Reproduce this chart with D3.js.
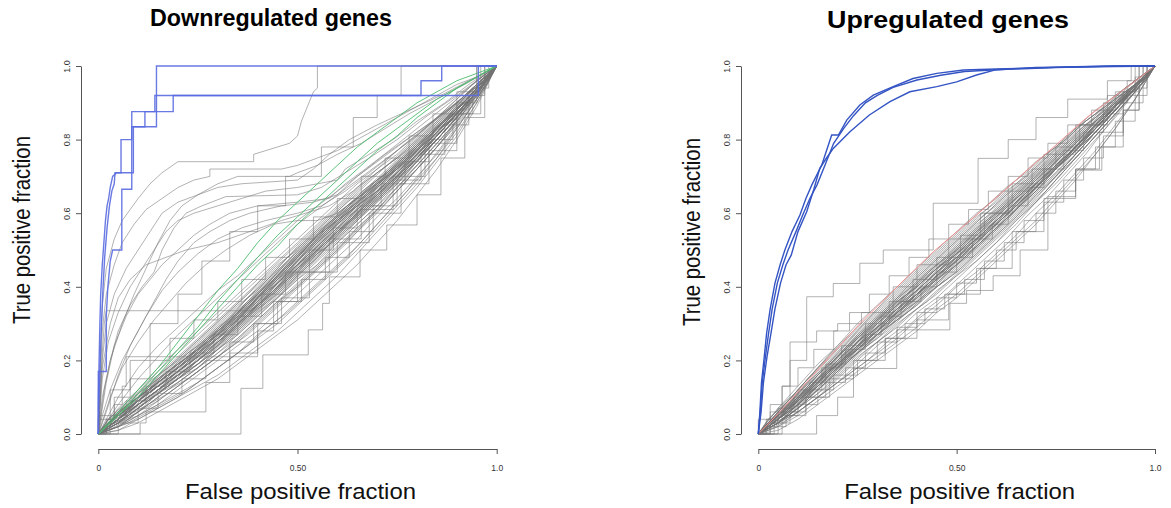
<!DOCTYPE html>
<html>
<head>
<meta charset="utf-8">
<script src="https://cdn.jsdelivr.net/npm/d3@7"></script>
<style>
  body { margin: 0; background: #fff; }
  svg text { font-family: "Liberation Sans", Arial, sans-serif; }
</style>
</head>
<body>
<svg id="chart" width="1171" height="508"></svg>
<script>
// ---- data ----
const panelTitles = ["Downregulated genes", "Upregulated genes"];
const xTitle = "False positive fraction";
const yTitle = "True positive fraction";
const xTicks = [0, 0.5, 1];
const xTickLabels = ["0", "0.50", "1.0"];
const yTicks = [0, 0.2, 0.4, 0.6, 0.8, 1];
const yTickLabels = ["0.0", "0.2", "0.4", "0.6", "0.8", "1.0"];

// false positive fraction grids used by the dense random-set curves
const fprGrid = [0, 0.05, 0.1, 0.15, 0.2, 0.25, 0.3, 0.35, 0.4, 0.45, 0.5,
                 0.55, 0.6, 0.65, 0.7, 0.75, 0.8, 0.85, 0.9, 0.95, 1];
const fprGridB = [0, 0.025, 0.075, 0.125, 0.175, 0.225, 0.275, 0.325, 0.375, 0.425, 0.475,
                  0.525, 0.575, 0.625, 0.675, 0.725, 0.775, 0.825, 0.875, 0.925, 0.975, 1];

// downregulated: true positive fraction of random gene sets on fprGrid
const downBand = [
  [0,.05,.10,.15,.19,.24,.29,.34,.40,.45,.51,.56,.61,.66,.71,.75,.80,.85,.90,.95,1],
  [0,.03,.07,.11,.15,.18,.23,.28,.33,.38,.43,.48,.53,.58,.63,.68,.73,.79,.85,.92,1],
  [0,.06,.11,.15,.20,.25,.30,.35,.39,.44,.50,.55,.60,.64,.69,.74,.79,.84,.89,.95,1],
  [0,.04,.08,.12,.16,.19,.24,.29,.34,.39,.45,.50,.55,.60,.65,.70,.75,.80,.86,.93,1],
  [0,.02,.06,.09,.13,.17,.21,.26,.31,.36,.41,.46,.52,.57,.62,.67,.72,.78,.84,.91,1],
  [0,.05,.09,.14,.18,.22,.27,.33,.38,.43,.48,.54,.58,.63,.68,.72,.77,.82,.88,.94,1],
  [0,.04,.10,.14,.18,.23,.28,.32,.37,.42,.46,.51,.56,.61,.66,.71,.77,.83,.88,.94,1],
  [0,.03,.06,.10,.14,.18,.22,.26,.31,.36,.40,.45,.50,.55,.60,.66,.72,.78,.85,.92,1],
  [0,.07,.12,.17,.22,.27,.32,.37,.42,.47,.52,.57,.62,.67,.71,.75,.80,.85,.90,.95,1],
  [0,.04,.07,.11,.15,.20,.25,.30,.35,.40,.46,.51,.56,.61,.67,.72,.77,.82,.87,.93,1],
  [0,.02,.05,.08,.12,.16,.20,.24,.28,.33,.38,.43,.48,.53,.59,.64,.70,.76,.83,.91,1],
  [0,.05,.10,.13,.17,.21,.26,.31,.37,.42,.47,.53,.58,.63,.67,.72,.78,.83,.88,.94,1],
  [0,.06,.10,.16,.21,.26,.31,.36,.41,.46,.50,.55,.59,.64,.69,.74,.79,.84,.89,.94,1],
  [0,.03,.08,.12,.15,.19,.23,.27,.32,.37,.43,.48,.54,.59,.64,.69,.74,.80,.86,.93,1],
  [0,.04,.09,.13,.17,.21,.26,.31,.36,.41,.47,.52,.57,.62,.67,.71,.76,.81,.87,.93,1],
  [0,.01,.04,.07,.10,.14,.18,.22,.27,.31,.36,.41,.46,.51,.57,.63,.69,.75,.82,.90,1],
  [0,.05,.11,.16,.20,.24,.29,.33,.38,.44,.49,.54,.58,.63,.68,.73,.78,.83,.89,.95,1],
  [0,.04,.08,.13,.17,.22,.27,.32,.37,.41,.46,.50,.55,.60,.65,.70,.76,.81,.87,.94,1],
  [0,.03,.07,.11,.14,.18,.23,.28,.33,.37,.42,.47,.52,.57,.62,.68,.74,.80,.86,.93,1],
  [0,.06,.12,.18,.23,.28,.33,.38,.43,.48,.53,.58,.63,.68,.72,.76,.81,.86,.91,.96,1],
  [0,.04,.09,.13,.18,.23,.28,.33,.38,.44,.49,.54,.59,.64,.69,.73,.78,.83,.88,.94,1],
  [0,.02,.05,.09,.13,.17,.21,.25,.30,.35,.40,.45,.50,.56,.61,.66,.72,.78,.85,.92,1],
  [0,.05,.09,.13,.16,.20,.24,.29,.35,.40,.45,.50,.55,.60,.65,.70,.75,.81,.87,.93,1],
  [0,.03,.06,.11,.16,.21,.26,.30,.35,.39,.44,.49,.53,.58,.63,.68,.74,.80,.86,.93,1],
  [0,.04,.08,.11,.15,.19,.24,.30,.35,.41,.46,.51,.57,.62,.66,.70,.75,.80,.86,.93,1],
  [0,.05,.08,.12,.17,.22,.27,.31,.35,.40,.44,.49,.54,.59,.64,.69,.75,.81,.87,.94,1],
  [0,.03,.07,.12,.17,.21,.25,.30,.34,.38,.43,.48,.54,.60,.66,.71,.76,.81,.87,.93,1],
  [0,.06,.10,.14,.19,.23,.27,.32,.37,.43,.48,.53,.58,.62,.67,.72,.77,.82,.88,.94,1],
  [0,.02,.06,.10,.14,.18,.22,.27,.32,.37,.42,.46,.51,.56,.61,.67,.73,.79,.85,.92,1],
  [0,.04,.09,.14,.18,.22,.26,.31,.36,.41,.46,.52,.57,.62,.66,.71,.77,.83,.88,.94,1],
  [0,.02,.04,.07,.10,.13,.16,.20,.24,.28,.33,.38,.43,.49,.55,.61,.67,.74,.81,.90,1],
  [0,.03,.05,.08,.11,.14,.18,.22,.26,.30,.35,.40,.45,.50,.56,.62,.68,.75,.83,.91,1],
  [0,.01,.03,.06,.09,.12,.15,.19,.23,.27,.31,.36,.41,.46,.52,.58,.65,.72,.80,.89,1],
  [0,.08,.15,.21,.27,.32,.37,.42,.47,.52,.57,.61,.65,.69,.73,.77,.81,.86,.91,.96,1],
  [0,.10,.18,.24,.29,.34,.39,.43,.48,.53,.58,.62,.66,.70,.74,.78,.82,.86,.90,.95,1],
  [0,.04,.09,.13,.17,.21,.26,.31,.36,.42,.47,.52,.57,.62,.66,.71,.76,.81,.87,.93,1],
  [0,.05,.09,.14,.18,.22,.27,.32,.37,.42,.48,.53,.58,.62,.67,.72,.77,.82,.87,.94,1],
  [0,.03,.08,.12,.16,.20,.25,.30,.35,.40,.46,.51,.56,.61,.66,.71,.76,.81,.87,.93,1],
  [0,.05,.10,.14,.18,.23,.28,.33,.38,.43,.48,.53,.58,.63,.68,.72,.77,.82,.88,.94,1],
  [0,.04,.08,.12,.16,.20,.25,.30,.35,.40,.45,.50,.55,.60,.65,.70,.75,.81,.87,.93,1],
  [0,.03,.07,.11,.15,.20,.25,.29,.34,.39,.44,.50,.55,.60,.65,.70,.76,.82,.88,.94,1],
  [0,.05,.09,.13,.17,.22,.26,.31,.37,.42,.47,.52,.57,.61,.66,.71,.76,.82,.87,.93,1],
  [0,.04,.09,.14,.19,.23,.28,.33,.38,.43,.48,.54,.59,.64,.68,.73,.78,.83,.88,.94,1],
  [0,.04,.09,.13,.18,.23,.27,.32,.36,.41,.46,.51,.56,.61,.65,.70,.75,.80,.86,.93,1],
  [0,.05,.10,.15,.19,.23,.28,.33,.38,.43,.49,.54,.59,.63,.68,.73,.78,.83,.88,.94,1]
];

// downregulated: more random gene sets on fprGridB
const downBandB = [
  [0,.03,.08,.12,.16,.20,.25,.30,.35,.40,.45,.50,.55,.60,.65,.70,.74,.79,.85,.90,.97,1],
  [0,.02,.06,.10,.14,.18,.22,.27,.32,.37,.42,.47,.52,.57,.62,.67,.72,.78,.84,.89,.96,1],
  [0,.03,.07,.12,.16,.21,.26,.31,.36,.42,.47,.52,.57,.62,.67,.71,.76,.81,.86,.91,.97,1],
  [0,.02,.06,.10,.13,.17,.21,.25,.30,.35,.40,.45,.50,.55,.61,.66,.72,.78,.84,.90,.96,1],
  [0,.04,.09,.14,.18,.23,.28,.33,.38,.43,.48,.53,.58,.63,.67,.72,.77,.82,.87,.92,.97,1],
  [0,.02,.07,.11,.15,.19,.24,.28,.33,.38,.44,.49,.54,.59,.64,.69,.74,.79,.85,.90,.96,1],
  [0,.03,.06,.10,.14,.19,.24,.29,.34,.39,.43,.48,.53,.58,.63,.68,.73,.79,.84,.90,.96,1],
  [0,.03,.08,.12,.17,.21,.26,.31,.37,.42,.48,.53,.58,.63,.68,.73,.77,.82,.87,.92,.97,1],
  [0,.01,.04,.08,.12,.15,.19,.23,.28,.33,.38,.43,.48,.53,.58,.64,.70,.76,.82,.89,.95,1],
  [0,.03,.07,.11,.15,.20,.25,.30,.35,.40,.46,.51,.56,.61,.66,.70,.75,.81,.86,.91,.97,1],
  [0,.02,.06,.10,.14,.18,.23,.27,.32,.37,.42,.48,.53,.58,.63,.68,.73,.78,.84,.90,.96,1],
  [0,.04,.08,.12,.17,.22,.27,.32,.37,.42,.47,.52,.57,.62,.66,.71,.76,.81,.86,.91,.97,1],
  [0,.02,.05,.09,.13,.17,.21,.26,.31,.36,.41,.46,.51,.56,.61,.66,.72,.77,.83,.89,.96,1],
  [0,.03,.07,.11,.16,.20,.25,.29,.34,.39,.44,.50,.55,.60,.65,.70,.75,.80,.86,.91,.97,1],
  [0,.03,.08,.13,.17,.22,.26,.31,.36,.41,.46,.51,.56,.61,.65,.70,.75,.80,.85,.91,.96,1],
  [0,.02,.05,.08,.11,.15,.19,.23,.27,.32,.37,.42,.47,.52,.58,.63,.69,.75,.81,.88,.95,1],
  [0,.04,.09,.13,.18,.23,.28,.33,.38,.44,.49,.54,.59,.64,.69,.73,.78,.83,.88,.92,.97,1],
  [0,.02,.06,.11,.15,.19,.23,.28,.33,.38,.43,.47,.52,.57,.62,.67,.72,.78,.84,.90,.96,1],
  [0,.03,.07,.11,.15,.19,.24,.29,.34,.40,.45,.50,.55,.60,.65,.70,.75,.80,.85,.91,.96,1],
  [0,.02,.06,.09,.13,.18,.22,.26,.31,.36,.41,.46,.52,.57,.62,.67,.72,.78,.84,.90,.96,1],
  [0,.03,.08,.12,.16,.21,.26,.30,.35,.40,.45,.51,.56,.61,.66,.71,.76,.81,.86,.91,.97,1],
  [0,.02,.05,.09,.14,.18,.22,.27,.32,.37,.42,.47,.51,.56,.61,.66,.71,.77,.83,.89,.96,1],
  [0,.03,.07,.12,.17,.21,.25,.30,.36,.41,.46,.51,.57,.62,.67,.71,.76,.81,.86,.91,.97,1],
  [0,.01,.03,.06,.09,.12,.16,.20,.24,.29,.33,.38,.43,.48,.54,.60,.66,.73,.80,.87,.95,1]
];

// downregulated: random sets with their own [fpr, tpr] vertices (outliers and step curves)
const downOther = [
  [[0,0],[.005,.2],[.01,.35],[.02,.45],[.04,.53],[.06,.58],[.08,.61],[.1,.64],[.13,.68],[.16,.71],[.2,.74],[.39,.74],[.39,.76],[.42,.77],[.48,.79],[.5,.81],[.51,.85],[.54,.93],[.55,.94],[.55,1],[1,1]],
  [[0,0],[.005,.15],[.01,.28],[.02,.38],[.04,.46],[.06,.52],[.09,.57],[.12,.61],[.16,.64],[.2,.67],[.24,.69],[.28,.7],[.28,.72],[.46,.72],[.5,.73],[.55,.75],[.6,.77],[.65,.8],[.7,.83],[.75,.86],[.8,.89],[.85,.92],[.9,.95],[.95,.97],[1,1]],
  [[0,0],[.01,.2],[.02,.3],[.04,.38],[.07,.45],[.1,.5],[.13,.55],[.16,.6],[.2,.63],[.25,.65],[.3,.68],[.35,.7],[.48,.7],[.5,.71],[.55,.73],[.6,.76],[.66,.79],[.72,.83],[.78,.87],[.85,.91],[.92,.95],[1,1]],
  [[0,0],[.01,.15],[.025,.25],[.05,.33],[.08,.4],[.11,.45],[.14,.5],[.17,.55],[.2,.58],[.24,.6],[.3,.62],[.36,.64],[.42,.66],[.5,.67],[.6,.69],[.62,.72],[.68,.76],[.74,.8],[.8,.85],[.87,.9],[.93,.95],[1,1]],
  [[0,0],[.015,.12],[.03,.2],[.05,.28],[.08,.35],[.11,.4],[.14,.44],[.16,.5],[.19,.56],[.22,.6],[.26,.62],[.32,.645],[.5,.65],[.56,.67],[.62,.71],[.68,.75],[.75,.8],[.82,.86],[.9,.92],[1,1]],
  [[0,0],[.02,.14],[.04,.24],[.07,.32],[.1,.38],[.13,.42],[.16,.46],[.2,.5],[.24,.54],[.28,.57],[.33,.6],[.4,.62],[.5,.63],[.58,.64],[.62,.68],[.67,.72],[.73,.77],[.8,.83],[.87,.89],[.94,.95],[1,1]],
  [[0,0],[.005,.12],[.01,.22],[.015,.3],[.02,.335],[.38,.335],[.41,.36],[.45,.4],[.5,.45],[.55,.5],[.6,.55],[.66,.6],[.72,.66],[.78,.72],[.85,.8],[.92,.89],[1,1]],
  [[0,0],[.02,.06],[.05,.16],[.08,.24],[.12,.32],[.16,.39],[.2,.44],[.25,.49],[.3,.53],[.36,.56],[.42,.58],[.5,.6],[.56,.62],[.62,.66],[.68,.71],[.75,.77],[.82,.83],[.9,.9],[1,1]],
  [[0,0],[.03,.1],[.06,.18],[.1,.25],[.14,.31],[.18,.36],[.22,.41],[.27,.46],[.32,.5],[.38,.54],[.44,.57],[.5,.58],[.55,.58],[.6,.6],[.66,.65],[.72,.7],[.8,.77],[.88,.85],[.95,.93],[1,1]],
  [[0,0],[.01,.1],[.03,.2],[.06,.3],[.09,.38],[.12,.45],[.15,.52],[.18,.58],[.21,.62],[.25,.65],[.3,.67],[.36,.68],[.5,.69],[.54,.72],[.58,.76],[.63,.8],[.7,.84],[.78,.88],[.86,.92],[.93,.96],[1,1]],
  [[0,0],[.01,.18],[.03,.3],[.05,.37],[.08,.42],[.12,.46],[.17,.48],[.22,.5],[.3,.52],[.38,.55],[.46,.58],[.52,.6],[.58,.62],[.64,.66],[.7,.72],[.76,.78],[.84,.85],[.92,.92],[1,1]],
  [[0,0],[.01,.05],[.03,.12],[.06,.2],[.1,.28],[.14,.36],[.17,.42],[.2,.47],[.24,.52],[.28,.55],[.33,.58],[.38,.6],[.46,.62],[.54,.63],[.6,.65],[.65,.7],[.72,.76],[.8,.82],[.88,.88],[.95,.95],[1,1]],
  [[0,0],[.358,0],[.358,.124],[.413,.124],[.413,.215],[.527,.215],[.527,.283],[.563,.283],[.563,.355],[.58,.355],[.58,.427],[.657,.427],[.657,.5],[.724,.5],[.724,.568],[.8,.568],[.8,.65],[.86,.65],[.86,.75],[.92,.75],[.92,.86],[.97,.86],[.97,1],[1,1]],
  [[0,0],[.02,0],[.02,.04],[.04,.04],[.04,.08],[.06,.08],[.06,.13],[.07,.13],[.07,.21],[.4,.21],[.4,.28],[.44,.28],[.44,.36],[.5,.36],[.5,.44],[.58,.44],[.58,.53],[.66,.53],[.66,.61],[.74,.61],[.74,.7],[.82,.7],[.82,.79],[.9,.79],[.9,.9],[.95,.9],[.95,1],[1,1]],
  [[0,0],[.105,0],[.105,.03],[.12,.03],[.12,.06],[.27,.06],[.27,.14],[.33,.14],[.33,.22],[.4,.22],[.4,.3],[.46,.3],[.46,.37],[.53,.37],[.53,.44],[.6,.44],[.6,.52],[.68,.52],[.68,.6],[.76,.6],[.76,.68],[.83,.68],[.83,.77],[.9,.77],[.9,.87],[.96,.87],[.96,1],[1,1]],
  [[0,0],[0,.05],[.03,.05],[.03,.12],[.08,.12],[.08,.2],[.13,.2],[.13,.3],[.2,.3],[.2,.38],[.26,.38],[.26,.47],[.33,.47],[.33,.55],[.4,.55],[.4,.62],[.47,.62],[.47,.7],[.56,.7],[.56,.78],[.64,.78],[.64,.86],[.7,.86],[.7,.92],[.76,.92],[.76,1],[1,1]],
  [[0,0],[.03,0],[.03,.05],[.07,.05],[.07,.09],[.12,.09],[.12,.13],[.17,.13],[.17,.17],[.23,.17],[.23,.22],[.29,.22],[.29,.27],[.35,.27],[.35,.32],[.41,.32],[.41,.38],[.47,.38],[.47,.44],[.53,.44],[.53,.5],[.59,.5],[.59,.56],[.65,.56],[.65,.62],[.71,.62],[.71,.68],[.77,.68],[.77,.74],[.83,.74],[.83,.8],[.89,.8],[.89,.87],[.94,.87],[.94,.94],[.98,.94],[.98,1],[1,1]],
  [[0,0],[0,.04],[.04,.04],[.04,.1],[.08,.1],[.08,.15],[.13,.15],[.13,.2],[.18,.2],[.18,.26],[.24,.26],[.24,.31],[.3,.31],[.3,.36],[.36,.36],[.36,.42],[.42,.42],[.42,.48],[.48,.48],[.48,.53],[.54,.53],[.54,.59],[.6,.59],[.6,.64],[.66,.64],[.66,.7],[.72,.7],[.72,.75],[.78,.75],[.78,.81],[.84,.81],[.84,.87],[.9,.87],[.9,.93],[.95,.93],[.95,1],[1,1]],
  [[0,0],[.05,0],[.05,.03],[.1,.03],[.1,.07],[.15,.07],[.15,.11],[.21,.11],[.21,.15],[.27,.15],[.27,.2],[.33,.2],[.33,.25],[.39,.25],[.39,.3],[.45,.3],[.45,.36],[.51,.36],[.51,.42],[.57,.42],[.57,.48],[.63,.48],[.63,.55],[.69,.55],[.69,.62],[.75,.62],[.75,.69],[.81,.69],[.81,.76],[.87,.76],[.87,.84],[.93,.84],[.93,.92],[.97,.92],[.97,1],[1,1]]
];

// downregulated: the three real gene sets (blue)
const downBlue = [
  [[0,0],[0,.08],[.002,.2],[.004,.3],[.006,.38],[.01,.46],[.014,.52],[.018,.58],[.022,.62],[.026,.64],[.03,.67],[.036,.7],[.046,.71],[.057,.71],[.057,.8],[.084,.8],[.084,.876],[.142,.876],[.142,.92],[.81,.92],[.81,.96],[.862,.96],[.862,1],[1,1]],
  [[0,0],[0,.17],[.02,.17],[.02,.32],[.024,.4],[.03,.47],[.036,.5],[.059,.5],[.059,.665],[.084,.665],[.084,.835],[.146,.835],[.146,1],[1,1]],
  [[0,0],[.002,.1],[.005,.2],[.008,.3],[.012,.4],[.016,.48],[.022,.56],[.028,.62],[.034,.66],[.04,.68],[.042,.71],[.088,.71],[.088,.835],[.117,.835],[.117,.876],[.188,.876],[.188,.92],[.954,.92],[.954,1],[1,1]]
];

// downregulated: comparison sets (green) on fprGrid
const downGreen = [
  [0,.06,.12,.18,.25,.32,.39,.45,.52,.58,.63,.68,.73,.78,.82,.86,.9,.93,.96,.98,1],
  [0,.05,.11,.17,.23,.29,.36,.42,.48,.54,.59,.64,.69,.74,.79,.83,.87,.91,.94,.97,1],
  [0,.05,.1,.16,.22,.28,.34,.4,.46,.51,.57,.62,.67,.72,.77,.81,.86,.9,.94,.97,1]
];

// upregulated: true positive fraction of random gene sets on fprGrid
const upBand = [
  [0,.05,.10,.16,.21,.26,.31,.36,.41,.46,.51,.56,.61,.66,.71,.76,.81,.86,.91,.95,1],
  [0,.03,.08,.13,.18,.23,.28,.33,.38,.43,.47,.52,.57,.62,.67,.72,.77,.82,.88,.94,1],
  [0,.05,.10,.15,.21,.26,.31,.36,.40,.45,.50,.55,.60,.65,.70,.75,.80,.85,.90,.95,1],
  [0,.04,.09,.14,.19,.24,.29,.34,.38,.43,.48,.53,.58,.63,.68,.73,.78,.83,.89,.94,1],
  [0,.03,.07,.12,.17,.22,.27,.32,.36,.41,.46,.51,.56,.61,.66,.71,.76,.82,.88,.94,1],
  [0,.05,.11,.16,.21,.26,.30,.35,.40,.45,.49,.54,.59,.64,.69,.74,.79,.84,.89,.95,1],
  [0,.04,.09,.14,.19,.24,.29,.34,.39,.44,.48,.53,.58,.63,.68,.73,.78,.84,.89,.94,1],
  [0,.04,.08,.13,.18,.23,.28,.33,.37,.42,.47,.51,.56,.61,.66,.72,.77,.83,.88,.94,1],
  [0,.06,.11,.17,.22,.27,.32,.37,.42,.47,.52,.57,.61,.66,.71,.76,.81,.86,.90,.95,1],
  [0,.04,.09,.15,.20,.25,.30,.35,.39,.44,.49,.53,.58,.63,.68,.73,.78,.84,.89,.94,1],
  [0,.03,.07,.12,.17,.22,.27,.31,.36,.40,.45,.50,.55,.60,.65,.70,.76,.82,.88,.94,1],
  [0,.05,.10,.15,.20,.25,.31,.36,.40,.45,.50,.55,.60,.65,.70,.75,.80,.85,.90,.95,1],
  [0,.05,.10,.15,.19,.24,.28,.33,.38,.43,.48,.53,.58,.63,.68,.73,.78,.83,.89,.94,1],
  [0,.03,.07,.12,.17,.22,.27,.31,.35,.40,.44,.49,.54,.59,.64,.70,.75,.81,.87,.93,1],
  [0,.04,.10,.15,.20,.26,.31,.35,.40,.45,.49,.54,.59,.64,.68,.73,.78,.83,.89,.94,1],
  [0,.04,.09,.14,.20,.25,.29,.34,.39,.44,.49,.54,.58,.63,.68,.73,.78,.83,.89,.94,1],
  [0,.03,.08,.13,.18,.22,.27,.32,.37,.41,.46,.51,.56,.61,.67,.72,.77,.83,.89,.94,1],
  [0,.05,.10,.16,.21,.27,.32,.37,.41,.46,.51,.56,.60,.65,.70,.75,.80,.85,.90,.95,1],
  [0,.04,.09,.14,.19,.24,.28,.33,.38,.43,.47,.52,.57,.62,.67,.72,.78,.83,.89,.94,1],
  [0,.03,.07,.12,.17,.22,.26,.31,.35,.40,.44,.49,.54,.59,.65,.70,.76,.82,.88,.93,1],
  [0,.04,.09,.14,.19,.25,.30,.35,.39,.44,.49,.54,.59,.64,.69,.74,.79,.84,.89,.94,1],
  [0,.05,.10,.15,.20,.25,.29,.34,.39,.44,.48,.53,.58,.63,.68,.73,.78,.83,.89,.94,1],
  [0,.03,.08,.13,.18,.23,.28,.33,.37,.42,.47,.52,.57,.62,.67,.72,.77,.82,.88,.94,1],
  [0,.04,.08,.13,.18,.23,.28,.32,.37,.42,.46,.51,.56,.61,.66,.72,.77,.83,.88,.94,1],
  [0,.02,.06,.10,.14,.19,.24,.28,.33,.37,.42,.47,.52,.57,.63,.68,.74,.80,.86,.93,1],
  [0,.06,.12,.18,.23,.28,.33,.38,.43,.48,.53,.58,.62,.67,.72,.77,.82,.86,.91,.96,1],
  [0,.04,.10,.15,.19,.24,.30,.35,.41,.46,.50,.55,.60,.64,.69,.74,.79,.85,.90,.95,1],
  [0,.05,.09,.14,.19,.23,.28,.33,.38,.43,.48,.52,.57,.62,.67,.72,.77,.83,.88,.94,1],
  [0,.04,.09,.13,.18,.24,.29,.34,.38,.43,.47,.52,.57,.62,.67,.73,.78,.83,.89,.94,1],
  [0,.03,.08,.14,.19,.24,.29,.33,.38,.42,.47,.52,.57,.62,.67,.72,.78,.84,.89,.94,1],
  [0,.05,.09,.14,.20,.25,.30,.34,.39,.44,.49,.53,.58,.63,.68,.74,.79,.84,.89,.95,1],
  [0,.04,.08,.13,.18,.23,.27,.32,.36,.41,.46,.51,.56,.61,.66,.71,.77,.82,.88,.94,1],
  [0,.03,.07,.11,.16,.21,.25,.30,.34,.39,.43,.48,.53,.58,.63,.69,.75,.81,.87,.93,1],
  [0,.05,.11,.16,.21,.26,.31,.36,.40,.45,.50,.55,.59,.64,.69,.74,.79,.85,.90,.95,1],
  [0,.04,.09,.14,.19,.24,.29,.33,.38,.43,.48,.53,.57,.62,.67,.72,.78,.83,.89,.94,1],
  [0,.03,.06,.10,.15,.20,.25,.29,.34,.38,.43,.47,.52,.58,.63,.69,.75,.81,.87,.93,1],
  [0,.02,.05,.09,.13,.17,.21,.25,.29,.34,.38,.43,.48,.53,.58,.64,.70,.76,.83,.91,1],
  [0,.03,.06,.10,.14,.18,.22,.26,.31,.35,.40,.44,.49,.54,.60,.65,.71,.77,.84,.91,1],
  [0,.01,.04,.08,.12,.16,.20,.24,.28,.33,.37,.42,.47,.52,.57,.63,.69,.76,.83,.91,1],
  [0,.06,.12,.18,.24,.29,.34,.39,.44,.49,.54,.59,.63,.68,.73,.78,.83,.87,.92,.96,1],
  [0,.07,.13,.19,.24,.30,.35,.40,.45,.50,.55,.60,.64,.69,.74,.78,.83,.88,.92,.96,1]
];

// upregulated: more random gene sets on fprGridB
const upBandB = [
  [0,.03,.08,.13,.18,.24,.29,.34,.39,.44,.49,.54,.59,.64,.69,.74,.79,.84,.88,.93,.97,1],
  [0,.02,.06,.10,.15,.20,.25,.29,.34,.39,.44,.48,.53,.58,.63,.68,.73,.79,.85,.91,.96,1],
  [0,.03,.08,.13,.19,.24,.29,.34,.39,.44,.48,.53,.58,.63,.68,.73,.78,.83,.87,.92,.97,1],
  [0,.02,.06,.11,.16,.21,.26,.30,.35,.40,.45,.50,.55,.60,.65,.70,.75,.80,.86,.91,.97,1],
  [0,.03,.09,.15,.20,.25,.31,.36,.41,.46,.51,.56,.61,.66,.70,.75,.80,.85,.89,.93,.97,1],
  [0,.02,.07,.11,.16,.21,.26,.31,.36,.41,.46,.51,.56,.61,.66,.71,.76,.81,.86,.92,.97,1],
  [0,.02,.05,.09,.13,.18,.23,.27,.32,.36,.41,.46,.51,.56,.61,.66,.72,.78,.84,.90,.96,1],
  [0,.03,.08,.12,.17,.22,.28,.33,.38,.43,.47,.52,.57,.62,.67,.72,.77,.82,.87,.92,.97,1],
  [0,.02,.07,.12,.17,.22,.27,.32,.37,.42,.47,.52,.57,.62,.67,.72,.77,.82,.87,.92,.97,1],
  [0,.03,.07,.12,.16,.21,.25,.30,.35,.40,.44,.49,.54,.59,.64,.70,.75,.81,.86,.92,.97,1],
  [0,.04,.09,.15,.21,.26,.31,.37,.42,.47,.52,.57,.62,.67,.71,.76,.80,.85,.89,.94,.98,1],
  [0,.02,.06,.11,.15,.20,.24,.29,.33,.38,.43,.48,.53,.58,.64,.69,.75,.80,.86,.92,.97,1],
  [0,.03,.07,.12,.18,.23,.28,.33,.38,.43,.48,.53,.58,.63,.68,.73,.78,.83,.88,.93,.97,1],
  [0,.02,.05,.10,.14,.19,.24,.28,.33,.38,.42,.47,.52,.57,.62,.67,.73,.79,.85,.91,.96,1],
  [0,.03,.08,.14,.19,.24,.29,.34,.40,.45,.50,.55,.60,.65,.69,.74,.79,.84,.89,.93,.97,1],
  [0,.02,.07,.12,.17,.21,.26,.31,.36,.40,.45,.50,.55,.60,.65,.70,.75,.81,.87,.92,.97,1],
  [0,.01,.04,.08,.12,.16,.20,.25,.29,.34,.38,.43,.48,.53,.59,.64,.70,.76,.83,.90,.96,1],
  [0,.04,.09,.14,.19,.25,.30,.35,.40,.45,.50,.55,.60,.65,.70,.75,.80,.85,.89,.94,.98,1]
];

// upregulated: random sets with their own [fpr, tpr] vertices (step curves)
const upOther = [
  [[0,0],[.03,0],[.03,.06],[.06,.06],[.06,.13],[.08,.13],[.08,.2],[.122,.2],[.122,.373],[.189,.373],[.189,.409],[.256,.409],[.256,.464],[.315,.464],[.315,.5],[.441,.5],[.441,.627],[.554,.627],[.554,.749],[.63,.749],[.63,.8],[.7,.8],[.7,.86],[.78,.86],[.78,.91],[.88,.91],[.88,.96],[.94,.96],[.94,1],[1,1]],
  [[0,0],[.147,0],[.147,.05],[.2,.05],[.2,.1],[.24,.1],[.24,.178],[.349,.178],[.349,.283],[.483,.283],[.483,.355],[.525,.355],[.525,.39],[.592,.39],[.592,.43],[.66,.43],[.66,.5],[.73,.5],[.73,.645],[.8,.645],[.8,.717],[.866,.717],[.866,.78],[.92,.78],[.92,.88],[.96,.88],[.96,1],[1,1]],
  [[0,0],[.02,.03],[.05,.07],[.08,.1],[.08,.25],[.147,.25],[.147,.28],[.2,.28],[.2,.3],[.26,.3],[.26,.33],[.34,.33],[.34,.4],[.4,.4],[.4,.46],[.48,.46],[.48,.53],[.56,.53],[.56,.6],[.64,.6],[.64,.68],[.72,.68],[.72,.76],[.8,.76],[.8,.84],[.88,.84],[.88,.92],[.95,.92],[.95,1],[1,1]],
  [[0,0],[.06,0],[.06,.05],[.12,.05],[.12,.1],[.18,.1],[.18,.15],[.24,.15],[.24,.2],[.32,.2],[.32,.26],[.4,.26],[.4,.31],[.48,.31],[.48,.38],[.56,.38],[.56,.45],[.64,.45],[.64,.55],[.72,.55],[.72,.64],[.8,.64],[.8,.72],[.86,.72],[.86,.82],[.92,.82],[.92,.9],[.97,.9],[.97,1],[1,1]],
  [[0,0],[.02,0],[.02,.04],[.05,.04],[.05,.07],[.09,.07],[.09,.1],[.13,.1],[.13,.14],[.17,.14],[.17,.19],[.22,.19],[.22,.23],[.27,.23],[.27,.27],[.31,.27],[.31,.32],[.36,.32],[.36,.36],[.41,.36],[.41,.4],[.45,.4],[.45,.44],[.5,.44],[.5,.48],[.54,.48],[.54,.53],[.59,.53],[.59,.57],[.63,.57],[.63,.62],[.68,.62],[.68,.67],[.72,.67],[.72,.72],[.77,.72],[.77,.77],[.82,.77],[.82,.82],[.87,.82],[.87,.87],[.92,.87],[.92,.93],[.96,.93],[.96,1],[1,1]],
  [[0,0],[.04,0],[.04,.03],[.08,.03],[.08,.06],[.12,.06],[.12,.1],[.17,.1],[.17,.14],[.22,.14],[.22,.18],[.27,.18],[.27,.22],[.32,.22],[.32,.26],[.37,.26],[.37,.3],[.42,.3],[.42,.34],[.47,.34],[.47,.38],[.52,.38],[.52,.42],[.57,.42],[.57,.47],[.62,.47],[.62,.52],[.67,.52],[.67,.58],[.72,.58],[.72,.63],[.77,.63],[.77,.69],[.82,.69],[.82,.75],[.87,.75],[.87,.81],[.92,.81],[.92,.88],[.96,.88],[.96,.94],[.98,.94],[.98,1],[1,1]],
  [[0,0],[0,.04],[.03,.04],[.03,.08],[.06,.08],[.06,.13],[.1,.13],[.1,.18],[.14,.18],[.14,.23],[.19,.23],[.19,.28],[.23,.28],[.23,.33],[.28,.33],[.28,.38],[.33,.38],[.33,.43],[.38,.43],[.38,.48],[.43,.48],[.43,.53],[.48,.53],[.48,.57],[.53,.57],[.53,.61],[.58,.61],[.58,.66],[.63,.66],[.63,.7],[.68,.7],[.68,.75],[.73,.75],[.73,.79],[.78,.79],[.78,.84],[.84,.84],[.84,.88],[.9,.88],[.9,.93],[.95,.93],[.95,.97],[.98,.97],[.98,1],[1,1]],
  [[0,0],[.03,0],[.03,.02],[.07,.02],[.07,.05],[.1,.05],[.1,.08],[.15,.08],[.15,.12],[.19,.12],[.19,.16],[.25,.16],[.25,.2],[.3,.2],[.3,.25],[.35,.25],[.35,.29],[.4,.29],[.4,.33],[.45,.33],[.45,.37],[.5,.37],[.5,.41],[.55,.41],[.55,.45],[.6,.45],[.6,.5],[.65,.5],[.65,.55],[.7,.55],[.7,.6],[.75,.6],[.75,.66],[.8,.66],[.8,.72],[.85,.72],[.85,.78],[.9,.78],[.9,.85],[.95,.85],[.95,.92],[.98,.92],[.98,1],[1,1]],
  [[0,0],[.05,0],[.05,.06],[.1,.06],[.1,.12],[.16,.12],[.16,.18],[.21,.18],[.21,.24],[.27,.24],[.27,.3],[.33,.3],[.33,.36],[.39,.36],[.39,.42],[.45,.42],[.45,.48],[.51,.48],[.51,.54],[.57,.54],[.57,.6],[.63,.6],[.63,.66],[.69,.66],[.69,.72],[.75,.72],[.75,.78],[.81,.78],[.81,.84],[.87,.84],[.87,.9],[.93,.9],[.93,.96],[.97,.96],[.97,1],[1,1]]
];

// upregulated: the three real gene sets (blue)
const upBlue = [
  [[0,0],[.004,.06],[.008,.14],[.015,.21],[.021,.274],[.03,.34],[.042,.41],[.055,.46],[.067,.5],[.085,.55],[.105,.595],[.12,.64],[.135,.677],[.16,.731],[.175,.78],[.185,.8125],[.202,.8125],[.223,.853],[.256,.894],[.29,.921],[.34,.944],[.39,.966],[.45,.98],[.517,.989],[.6,.992],[.7,.995],[.8,.998],[.9,1],[1,1]],
  [[0,0],[.005,.06],[.01,.14],[.018,.21],[.026,.274],[.035,.34],[.048,.41],[.062,.46],[.075,.5],[.095,.55],[.112,.595],[.13,.64],[.148,.677],[.168,.73],[.19,.79],[.215,.83],[.24,.865],[.27,.9],[.3,.92],[.34,.942],[.4,.962],[.46,.975],[.52,.985],[.6,.99],[.7,.996],[.85,.998],[1,1]],
  [[0,0],[.007,.06],[.013,.14],[.022,.21],[.032,.274],[.042,.34],[.056,.41],[.07,.46],[.083,.486],[.1,.55],[.122,.604],[.14,.665],[.155,.722],[.172,.75],[.189,.776],[.231,.8215],[.28,.867],[.332,.903],[.382,.93],[.45,.944],[.5,.957],[.55,.9755],[.6,.99],[.75,.996],[.9,1],[1,1]]
];

// upregulated: comparison set (red)
const upRed = [
  [[0,0],[.05,.055],[.113,.13],[.18,.21],[.256,.3],[.35,.4],[.441,.495],[.55,.595],[.66,.7],[.75,.785],[.828,.86],[.92,.935],[1,1]]
];

// ---- drawing ----
const svg = d3.select("#chart");
const yRange = [434, 66];

const onGrid = ys => ys.map((v, i) => [fprGrid[i], v]);
const onGridB = ys => ys.map((v, i) => [fprGridB[i], v]);

const gray = "#737373";
const panels = [
  {
    title: panelTitles[0], titleX: 271, titleY: 26,
    xRange: [98.3, 496.7], axisX: 81, yLabelX: 30, yLabelY: 230,
    groups: [
      { curves: downBand.map(onGrid), color: gray, width: 1, opacity: 0.55 },
      { curves: downBandB.map(onGridB), color: gray, width: 1, opacity: 0.55 },
      { curves: downOther, color: gray, width: 1, opacity: 0.55 },
      { curves: downGreen.map(onGrid), color: "#4dbb6e", width: 1, opacity: 0.9 },
      { curves: downBlue, color: "#5a6ce0", width: 1.4, opacity: 0.9 }
    ]
  },
  {
    title: panelTitles[1], titleX: 948, titleY: 28,
    xRange: [758.3, 1155], axisX: 741, yLabelX: 700, yLabelY: 232,
    groups: [
      { curves: upBand.map(onGrid), color: gray, width: 1, opacity: 0.55 },
      { curves: upBandB.map(onGridB), color: gray, width: 1, opacity: 0.55 },
      { curves: upOther, color: gray, width: 1, opacity: 0.55 },
      { curves: upRed, color: "#f08a8a", width: 1, opacity: 0.95 },
      { curves: upBlue, color: "#3454c4", width: 1.4, opacity: 1 }
    ]
  }
];

panels.forEach(p => {
  const x = d3.scaleLinear().domain([0, 1]).range(p.xRange);
  const y = d3.scaleLinear().domain([0, 1]).range(yRange);
  const line = d3.line().x(d => x(d[0])).y(d => y(d[1]));

  const g = svg.append("g");

  p.groups.forEach(grp => {
    g.append("g")
      .selectAll("path")
      .data(grp.curves)
      .join("path")
      .attr("d", line)
      .attr("fill", "none")
      .attr("stroke", grp.color)
      .attr("stroke-width", grp.width)
      .attr("stroke-opacity", grp.opacity);
  });

  // y axis, R style with rotated labels
  const yAxis = d3.axisLeft(y)
    .tickValues(yTicks)
    .tickFormat((d, i) => yTickLabels[i])
    .tickSize(5)
    .tickSizeOuter(0);
  const ya = g.append("g")
    .attr("transform", `translate(${p.axisX},0)`)
    .call(yAxis);
  ya.select(".domain").attr("stroke", "#555");
  ya.selectAll(".tick line").attr("stroke", "#555");
  ya.selectAll(".tick text")
    .attr("transform", "rotate(-90)")
    .attr("x", 0)
    .attr("y", -11)
    .attr("dy", 0)
    .attr("text-anchor", "middle")
    .attr("font-size", 9)
    .attr("fill", "#333");

  // x axis
  const xAxis = d3.axisBottom(x)
    .tickValues(xTicks)
    .tickFormat((d, i) => xTickLabels[i])
    .tickSize(5)
    .tickSizeOuter(0);
  const xa = g.append("g")
    .attr("transform", "translate(0,449)")
    .call(xAxis);
  xa.select(".domain").attr("stroke", "#555");
  xa.selectAll(".tick line").attr("stroke", "#555");
  xa.selectAll(".tick text")
    .attr("y", 16)
    .attr("font-size", 8.5)
    .attr("fill", "#333");

  // titles
  g.append("text")
    .attr("x", p.titleX)
    .attr("y", p.titleY)
    .attr("text-anchor", "middle")
    .attr("font-size", 23.5)
    .attr("font-weight", "bold")
    .attr("textLength", 242)
    .attr("lengthAdjust", "spacingAndGlyphs")
    .text(p.title);

  g.append("text")
    .attr("x", (p.xRange[0] + p.xRange[1]) / 2 + 3)
    .attr("y", 499)
    .attr("text-anchor", "middle")
    .attr("font-size", 22)
    .attr("textLength", 231)
    .attr("lengthAdjust", "spacingAndGlyphs")
    .attr("fill", "#111")
    .text(xTitle);

  g.append("text")
    .attr("transform", `translate(${p.yLabelX},${p.yLabelY}) rotate(-90)`)
    .attr("text-anchor", "middle")
    .attr("font-size", 23)
    .attr("textLength", 188)
    .attr("lengthAdjust", "spacingAndGlyphs")
    .attr("fill", "#111")
    .text(yTitle);
});
</script>
</body>
</html>
